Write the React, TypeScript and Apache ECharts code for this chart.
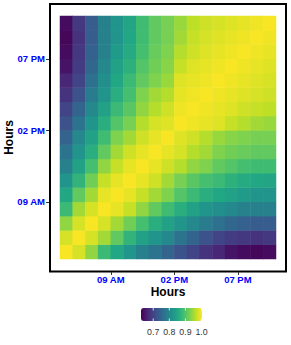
import React, { useEffect, useRef } from "react";
import * as echarts from "echarts";

// hour categories (one raster cell per hour)
const hours = ["05", "06", "07", "08", "09", "10", "11", "12", "13", "14", "15", "16", "17", "18", "19", "20", "21"];

// correlation matrix, stored as rows j with values for i = j..16 (symmetric matrix)
const corrRows: number[][] = [
  [1.0, 0.98, 0.94, 0.88, 0.85, 0.82, 0.79, 0.77, 0.745, 0.72, 0.70, 0.68, 0.665, 0.645, 0.635, 0.63, 0.635],
  [1.0, 0.98, 0.95, 0.91, 0.87, 0.84, 0.82, 0.80, 0.77, 0.745, 0.72, 0.70, 0.69, 0.685, 0.68, 0.685],
  [1.0, 0.98, 0.95, 0.92, 0.89, 0.86, 0.84, 0.82, 0.80, 0.78, 0.765, 0.75, 0.74, 0.735, 0.735],
  [1.0, 0.99, 0.97, 0.94, 0.91, 0.885, 0.86, 0.84, 0.82, 0.81, 0.80, 0.79, 0.79, 0.79],
  [1.0, 0.99, 0.97, 0.95, 0.93, 0.90, 0.88, 0.86, 0.85, 0.84, 0.83, 0.82, 0.82],
  [1.0, 0.99, 0.975, 0.95, 0.925, 0.905, 0.89, 0.88, 0.865, 0.855, 0.85, 0.845],
  [1.0, 0.99, 0.975, 0.96, 0.94, 0.93, 0.91, 0.90, 0.89, 0.885, 0.885],
  [1.0, 0.99, 0.98, 0.96, 0.95, 0.93, 0.92, 0.915, 0.91, 0.91],
  [1.0, 0.985, 0.975, 0.96, 0.945, 0.935, 0.93, 0.925, 0.925],
  [1.0, 0.995, 0.99, 0.985, 0.97, 0.96, 0.95, 0.945],
  [1.0, 0.995, 0.99, 0.985, 0.975, 0.97, 0.965],
  [1.0, 0.995, 0.99, 0.985, 0.98, 0.975],
  [1.0, 0.995, 0.99, 0.985, 0.98],
  [1.0, 0.995, 0.99, 0.985],
  [1.0, 0.995, 0.99],
  [1.0, 0.995],
  [1.0],
];

// axis ticks (hour of day) and labels
const tickHours = [9, 14, 19];
const tickLabels = ["09 AM", "02 PM", "07 PM"];
const hourMin = 5;
const hourMax = 22;

// colour bar
const colorMin = 0.624;
const colorMax = 1.003;
const legendTicks = [0.7, 0.8, 0.9, 1.0];
const legendTickLabels = ["0.7", "0.8", "0.9", "1.0"];

const viridis = [
  "#440154", "#482475", "#414487", "#355f8d", "#2a788e",
  "#21918c", "#22a884", "#44bf70", "#7ad151", "#bddf26", "#fde725",
];

const FONT = "'Liberation Sans', Arial, Helvetica, sans-serif";

function buildData() {
  const n = hours.length;
  const data: [number, number, number][] = [];
  for (let i = 0; i < n; i++) {
    for (let j = 0; j < n; j++) {
      const v = i >= j ? corrRows[j][i - j] : corrRows[i][j - i];
      data.push([i, j, v]);
    }
  }
  return data;
}

export default function App() {
  const ref = useRef<HTMLDivElement>(null);

  useEffect(() => {
    if (!ref.current) return;
    const chart = echarts.init(ref.current, undefined, { renderer: "svg" });

    const grid = { left: 60, top: 16, width: 216, height: 243 };
    const bar = { left: 141, top: 308, len: 61, thick: 13 };
    const legendX = (v: number) => bar.left + ((v - colorMin) / (colorMax - colorMin)) * bar.len;

    const graphics: any[] = [
      {
        type: "rect",
        shape: { x: 50, y: 4, width: 236, height: 267.5 },
        style: { fill: "none", stroke: "#000", lineWidth: 2 },
        silent: true,
      },
      {
        type: "text",
        x: 168,
        y: 292,
        style: {
          text: "Hours",
          font: `bold 12px ${FONT}`,
          fill: "#000",
          align: "center",
          verticalAlign: "middle",
        },
      },
      {
        type: "text",
        x: 9,
        y: 137.5,
        rotation: Math.PI / 2,
        style: {
          text: "Hours",
          font: `bold 12px ${FONT}`,
          fill: "#000",
          align: "center",
          verticalAlign: "middle",
        },
      },
    ];
    legendTicks.forEach((v, k) => {
      const x = legendX(v);
      graphics.push({
        type: "text",
        x,
        y: 332,
        style: {
          text: legendTickLabels[k],
          font: `8.8px ${FONT}`,
          fill: "#333",
          align: "center",
          verticalAlign: "middle",
        },
      });
      graphics.push({
        type: "line",
        shape: { x1: x, y1: bar.top, x2: x, y2: bar.top + 2.5 },
        style: { stroke: "#fff", lineWidth: 0.8 },
        z: 100,
      });
      graphics.push({
        type: "line",
        shape: { x1: x, y1: bar.top + bar.thick - 2.5, x2: x, y2: bar.top + bar.thick },
        style: { stroke: "#fff", lineWidth: 0.8 },
        z: 100,
      });
    });

    const labelFmt = (val: number) => {
      const idx = tickHours.indexOf(Math.round(val));
      return idx >= 0 ? tickLabels[idx] : "";
    };

    chart.setOption({
      animation: false,
      backgroundColor: "#fff",
      grid: [{ ...grid, containLabel: false }],
      xAxis: [
        {
          type: "category",
          data: hours,
          show: false,
          gridIndex: 0,
        },
        {
          type: "value",
          min: hourMin,
          max: hourMax,
          gridIndex: 0,
          position: "bottom",
          offset: 13,
          axisLine: { show: false },
          splitLine: { show: false },
          axisTick: {
            show: true,
            customValues: tickHours,
            length: 3,
            lineStyle: { color: "#333", width: 1 },
          },
          axisLabel: {
            customValues: tickHours,
            formatter: labelFmt,
            color: "blue",
            fontWeight: "bold",
            fontSize: 9.5,
            fontFamily: FONT,
            margin: 2,
            lineHeight: 10,
          },
        },
      ],
      yAxis: [
        {
          type: "category",
          data: hours,
          show: false,
          gridIndex: 0,
        },
        {
          type: "value",
          min: hourMin,
          max: hourMax,
          gridIndex: 0,
          position: "left",
          offset: 11,
          axisLine: { show: false },
          splitLine: { show: false },
          axisTick: {
            show: true,
            customValues: tickHours,
            length: 3,
            lineStyle: { color: "#333", width: 1 },
          },
          axisLabel: {
            customValues: tickHours,
            formatter: labelFmt,
            color: "blue",
            fontWeight: "bold",
            fontSize: 9.5,
            fontFamily: FONT,
            margin: 4,
          },
        },
      ],
      visualMap: {
        type: "continuous",
        min: colorMin,
        max: colorMax,
        orient: "horizontal",
        left: bar.left,
        top: bar.top,
        itemWidth: bar.thick,
        itemHeight: bar.len,
        padding: 0,
        calculable: false,
        hoverLink: false,
        showLabel: false,
        text: null,
        seriesIndex: 0,
        inRange: { color: viridis },
      },
      graphic: graphics,
      series: [
        {
          type: "heatmap",
          xAxisIndex: 0,
          yAxisIndex: 0,
          data: buildData(),
          emphasis: { disabled: true },
          itemStyle: { borderWidth: 0 },
          progressive: 0,
        },
        {
          type: "line",
          xAxisIndex: 1,
          yAxisIndex: 1,
          data: [],
          silent: true,
        },
      ],
    });

    return () => chart.dispose();
  }, []);

  return (
    <div
      ref={ref}
      style={{ position: "fixed", left: 0, top: 0, width: 291, height: 345 }}
    />
  );
}
